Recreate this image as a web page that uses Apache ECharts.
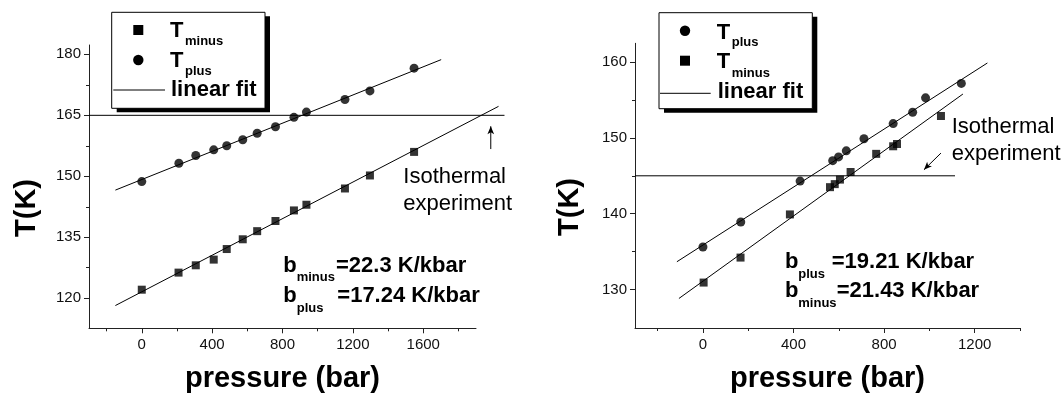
<!DOCTYPE html>
<html lang="en">
<head>
<meta charset="UTF-8">
<title>T vs pressure</title>
<script src="https://cdn.jsdelivr.net/npm/echarts@6/dist/echarts.min.js"></script>
<style>
    html, body { margin:0; padding:0; background:#fff; }
    #box { width:1064px; height:394px; }
</style>
</head>
<body>
<div id="box"></div>
<script>
// ---- left panel data (pressure in bar, T in K)
var pressPlusL  = [0, 211, 307, 409, 483, 574, 656, 760, 865, 936, 1155, 1297, 1548];
var tPlusL      = [148.7, 153.2, 155.1, 156.5, 157.5, 159.0, 160.6, 162.2, 164.5, 165.8, 168.9, 171.0, 176.6];
var pressMinusL = [0, 209, 307, 409, 483, 574, 656, 760, 865, 936, 1155, 1297, 1548];
var tMinusL     = [122.1, 126.3, 128.1, 129.5, 132.1, 134.5, 136.5, 139.0, 141.6, 143.0, 147.0, 150.2, 156.0];
var fitPlusL  = [[-150, 146.6], [1702, 178.7]];
var fitMinusL = [[-150, 118.2], [2028, 167.2]];
var isoLineL  = [[-300, 165], [2062, 165]];
var arrowL    = [[1984, 156.7], [1984, 162.3]];

// ---- right panel data
var pressPlusR  = [0, 167, 429, 573, 599, 633, 711, 840, 926, 983, 1141];
var tPlusR      = [135.6, 138.9, 144.3, 147.0, 147.5, 148.3, 149.9, 151.9, 153.4, 155.3, 157.2];
var pressMinusR = [3, 166, 384, 561, 582, 605, 652, 765, 840, 857, 1051];
var tMinusR     = [130.9, 134.2, 139.9, 143.5, 143.9, 144.5, 145.5, 147.9, 148.9, 149.2, 152.9];
var fitPlusR  = [[-115, 133.65], [1256, 159.9]];
var fitMinusR = [[-106, 128.8], [1148, 155.8]];
var isoLineR  = [[-300, 145], [1113, 145]];
var arrowR    = [[1051, 148.0], [976, 145.8]];

// ---- ticks
var xMajorL = [0, 400, 800, 1200, 1600];
var xMinorL = [-200, 200, 600, 1000, 1400, 1800];
var yMajorL = [120, 135, 150, 165, 180];
var yMinorL = [127.5, 142.5, 157.5, 172.5];
var xMajorR = [0, 400, 800, 1200];
var xMinorR = [-200, 200, 600, 1000, 1400];
var yMajorR = [130, 140, 150, 160];
var yMinorR = [135, 145, 155];

var FONT = '"Liberation Sans", Arial, sans-serif';

function pairs(xs, ys){
    var out = [];
    for(var i=0; i<xs.length; i++){
        out.push([xs[i], ys[i]]);
    }
    return out;
}

function mkAxis(dim, grid, min, max, values, tickLen, main, name){
    var a = {
        type:'value', gridIndex:grid, min:min, max:max,
        position: dim==='x' ? 'bottom' : 'left',
        splitLine:{show:false},
        axisLine:{show:main, onZero:false, lineStyle:{color:'#222', width:1}},
        axisTick:{show:!!values, inside:false, length:tickLen, customValues:values, lineStyle:{color:'#222', width:1}},
        axisLabel:{show:main, customValues:values, margin: dim==='x' ? 9 : 8,
            fontSize:15, fontFamily:FONT, color:'#111',
            formatter:function(v){ return String(v); }}
    };
    if(name){
        a.name = name;
        a.nameLocation = 'middle';
        a.nameGap = 36;
        a.nameTextStyle = {fontSize:29, fontWeight:'bold', fontFamily:FONT, color:'#000'};
    }
    return a;
}

function fitLine(data, xi, yi){
    return {type:'line', data:data, xAxisIndex:xi, yAxisIndex:yi, symbol:'none', clip:false,
        silent:true, lineStyle:{color:'#000', width:1}};
}

function arrowLine(data, xi, yi, rot){
    return {type:'line', xAxisIndex:xi, yAxisIndex:yi, clip:false, silent:true,
        symbol:'none', showSymbol:true,
        lineStyle:{color:'#000', width:1},
        itemStyle:{color:'#000'},
        data:[
            {value:data[0], symbol:'none'},
            {value:data[1], symbol:'arrow', symbolSize:[5, 8], symbolRotate:rot}
        ]};
}

function txt(s, x, y, size, bold, rot, align){
    return {type:'text', x:x, y:y, rotation:rot || 0, silent:true,
        style:{text:s, x:0, y:0, fontSize:size, fontWeight: bold ? 'bold' : 'normal',
            fontFamily:FONT, fill:'#000', verticalAlign:'middle', align:align || 'left'}};
}

function legend(bx, by, rows, lineY, lineX1, lineX2, fitX, fitY){
    var g = [];
    g.push({type:'rect', shape:{x:bx+5, y:by+4, width:153.3, height:96}, style:{fill:'#000'}, silent:true});
    g.push({type:'rect', shape:{x:bx, y:by, width:153.3, height:96}, style:{fill:'#fff', stroke:'#000', lineWidth:1}, silent:true});
    for(var i=0; i<rows.length; i++){
        var r = rows[i];
        if(r.sym === 'rect'){
            g.push({type:'rect', shape:{x:r.sx-5, y:r.sy-5, width:10, height:10}, style:{fill:'#000'}, silent:true});
        }else{
            g.push({type:'circle', shape:{cx:r.sx, cy:r.sy, r:5.2}, style:{fill:'#000'}, silent:true});
        }
        g.push(txt('T', r.tx, r.ty, 22, true));
        g.push(txt(r.sub, r.tx+15, r.suby, 13, true));
    }
    g.push({type:'line', shape:{x1:lineX1, y1:lineY, x2:lineX2, y2:lineY}, style:{stroke:'#000', lineWidth:1}, silent:true});
    g.push(txt('linear fit', fitX, fitY, 22, true));
    return g;
}

var graphics = [];
graphics = graphics.concat(legend(111.7, 12.3, [
    {sym:'rect', sx:138.3, sy:30, tx:170, ty:31, sub:'minus', suby:41.5},
    {sym:'circle', sx:138.3, sy:60, tx:170, ty:61, sub:'plus', suby:71.5}
], 90, 113.3, 165, 171, 90.4));
graphics = graphics.concat(legend(659, 12.7, [
    {sym:'circle', sx:685, sy:30.7, tx:716.7, ty:32.7, sub:'plus', suby:42.8},
    {sym:'rect', sx:685, sy:60.7, tx:716.7, ty:62, sub:'minus', suby:73.8}
], 93.3, 660, 710.7, 717.7, 91.7));

// y axis titles
graphics.push(txt('T(K)', 27, 208, 29, true, Math.PI/2, 'center'));
graphics.push(txt('T(K)', 570, 207, 29, true, Math.PI/2, 'center'));

// isothermal notes
graphics.push(txt('Isothermal', 403.3, 177, 22, false));
graphics.push(txt('experiment', 403.3, 204, 22, false));
graphics.push(txt('Isothermal', 951.7, 126.7, 22, false));
graphics.push(txt('experiment', 951.7, 154, 22, false));

// slope notes
graphics.push(txt('b', 283.3, 265.5, 22, true));
graphics.push(txt('minus', 296.7, 277.2, 13, true));
graphics.push(txt('=22.3 K/kbar', 336, 265.5, 22, true));
graphics.push(txt('b', 283.3, 296.4, 22, true));
graphics.push(txt('plus', 296.7, 308, 13, true));
graphics.push(txt('=17.24 K/kbar', 337.3, 296.4, 22, true));

graphics.push(txt('b', 785, 262.4, 22, true));
graphics.push(txt('plus', 798.3, 274, 13, true));
graphics.push(txt('=19.21 K/kbar', 831.7, 262.4, 22, true));
graphics.push(txt('b', 785, 291.4, 22, true));
graphics.push(txt('minus', 798.3, 303, 13, true));
graphics.push(txt('=21.43 K/kbar', 836.7, 291.4, 22, true));

// left panel: visible axes span -300..1900, the fit lines run past its end,
// so they live in an overlay grid with the same scale but a longer x range
var LX_MIN = -300, LX_MAX = 1900, LX_WIDE = 2100, L_W = 387;

var MyChart = echarts.init(document.getElementById('box'), null, {renderer:'canvas'});
var option = {
    animation:false,
    backgroundColor:'#fff',
    grid:[
        {left:89, top:45, width:L_W, height:283.3, outerBoundsMode:'none'},
        {left:635, top:43.3, width:385, height:284.7, outerBoundsMode:'none'},
        {left:89, top:45, width:L_W*(LX_WIDE-LX_MIN)/(LX_MAX-LX_MIN), height:283.3, outerBoundsMode:'none'}
    ],
    xAxis:[
        mkAxis('x', 0, LX_MIN, LX_MAX, xMajorL, 5, true, 'pressure (bar)'),
        mkAxis('x', 0, LX_MIN, LX_MAX, xMinorL, 3, false),
        mkAxis('x', 1, -300, 1400, xMajorR, 5, true, 'pressure (bar)'),
        mkAxis('x', 1, -300, 1400, xMinorR, 3, false),
        mkAxis('x', 2, LX_MIN, LX_WIDE, null, 0, false)
    ],
    yAxis:[
        mkAxis('y', 0, 112.6, 182.3, yMajorL, 5, true),
        mkAxis('y', 0, 112.6, 182.3, yMinorL, 3, false),
        mkAxis('y', 1, 124.9, 162.5, yMajorR, 5, true),
        mkAxis('y', 1, 124.9, 162.5, yMinorR, 3, false),
        mkAxis('y', 2, 112.6, 182.3, null, 0, false)
    ],
    series:[
        fitLine(fitPlusL, 4, 4),
        fitLine(fitMinusL, 4, 4),
        fitLine(isoLineL, 4, 4),
        arrowLine(arrowL, 4, 4, 0),
        {type:'scatter', name:'Tminus', xAxisIndex:0, yAxisIndex:0, symbol:'rect', symbolSize:8,
            itemStyle:{color:'#000'}, data:pairs(pressMinusL, tMinusL)},
        {type:'scatter', name:'Tplus', xAxisIndex:0, yAxisIndex:0, symbol:'circle', symbolSize:9,
            itemStyle:{color:'#000'}, data:pairs(pressPlusL, tPlusL)},

        fitLine(fitPlusR, 2, 2),
        fitLine(fitMinusR, 2, 2),
        fitLine(isoLineR, 2, 2),
        arrowLine(arrowR, 2, 2, 136),
        {type:'scatter', name:'Tplus', xAxisIndex:2, yAxisIndex:2, symbol:'circle', symbolSize:9,
            itemStyle:{color:'#000'}, data:pairs(pressPlusR, tPlusR)},
        {type:'scatter', name:'Tminus', xAxisIndex:2, yAxisIndex:2, symbol:'rect', symbolSize:8,
            itemStyle:{color:'#000'}, data:pairs(pressMinusR, tMinusR)}
    ],
    graphic:graphics
};
MyChart.setOption(option, true);
</script>
</body>
</html>
